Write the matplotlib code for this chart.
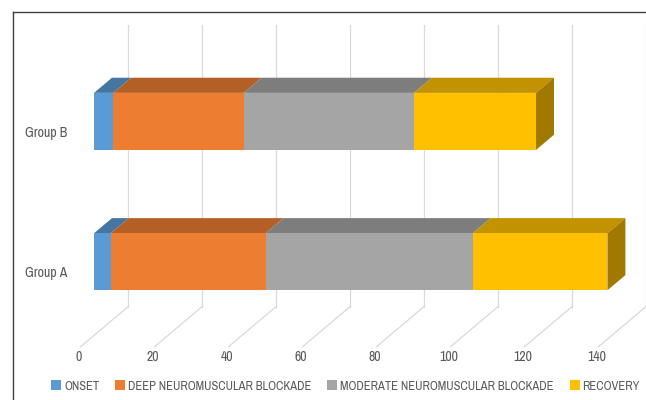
import matplotlib
matplotlib.use("Agg")
import matplotlib.pyplot as plt
from matplotlib.patches import Polygon, Patch
from matplotlib import font_manager
import numpy as np

# ---- data ----
groups = ["Group A", "Group B"]
series_names = ["ONSET", "DEEP NEUROMUSCULAR BLOCKADE",
                "MODERATE NEUROMUSCULAR BLOCKADE", "RECOVERY"]
onset = [4.5, 5.2]
deep = [41.9, 35.3]
moderate = [56.0, 46.0]
recovery = [36.4, 33.0]
x_ticks = [0, 20, 40, 60, 80, 100, 120, 140]

colors = ["#5B9BD5", "#ED7D31", "#A5A5A5", "#FFC000"]

available = {f.name for f in font_manager.fontManager.ttflist}
narrow = sorted(n for n in available if ("Narrow" in n or "Condensed" in n))
fam = narrow[0] if narrow else "Liberation Sans"
plt.rcParams["font.family"] = [fam, "DejaVu Sans"]
LEG_FS = 9.0 if narrow else 7.5
CAT_FS = 10.0 if narrow else 8.5
TICK_FS = 10.0 if narrow else 8.5
TXT = "#595959"

W, H = 646, 400
fig = plt.figure(figsize=(W / 100, H / 100), dpi=100)
ax = fig.add_axes([0, 0, 1, 1])
PXU = 3.699     # px per value unit
PXC = 140.4     # px per category
ax.set_xlim(-128 / PXU, (W - 128) / PXU)
ax.set_ylim((233.1 - H) / PXC, 233.1 / PXC)
ax.axis("off")

# oblique depth: d=0 back wall, d=1 front floor
DX, DY = -47.4, 40.0


def P(v, c, d):
    return (v + DX * d / PXU, c - DY * d / PXC)


def shade(col, f):
    r, g, b = matplotlib.colors.to_rgb(col)
    return (r * f, g * f, b * f)


c_floor = (233.1 - 306.7) / PXC
c_top = (233.1 - 25) / PXC

# gridlines
for v in x_ticks:
    ax.plot(*zip(P(v, c_floor, 0), P(v, c_top, 0)), color="#D9D9D9", lw=0.9, zorder=1)
    ax.plot(*zip(P(v, c_floor, 0), P(v, c_floor, 1)), color="#D9D9D9", lw=0.9, zorder=1)
    x, y = P(v, c_floor, 1)
    ax.text(x - 1.5 / PXU, y - 10 / PXC, str(v), ha="center", va="center",
            fontsize=TICK_FS, color=TXT)

# bars
d_f, d_b = 0.717, 0.338
h = 57 / PXC
data = np.array([onset, deep, moderate, recovery])
for gi, g in enumerate(groups):
    c = gi
    left = 0.0
    n = data.shape[0]
    for si in range(n):
        val = data[si, gi]
        s, e = left, left + val
        col = colors[si]
        top = [P(s, c + h / 2, d_f), P(e, c + h / 2, d_f), P(e, c + h / 2, d_b), P(s, c + h / 2, d_b)]
        ax.add_patch(Polygon(top, closed=True, facecolor=shade(col, 0.76), edgecolor="none", zorder=3))
        front = [P(s, c - h / 2, d_f), P(e, c - h / 2, d_f), P(e, c + h / 2, d_f), P(s, c + h / 2, d_f)]
        ax.add_patch(Polygon(front, closed=True, facecolor=col, edgecolor="none", zorder=4))
        if si == n - 1:
            side = [P(e, c - h / 2, d_f), P(e, c + h / 2, d_f), P(e, c + h / 2, d_b), P(e, c - h / 2, d_b)]
            ax.add_patch(Polygon(side, closed=True, facecolor=shade(col, 0.63), edgecolor="none", zorder=3))
        left = e
    x, y = P(0, c, 1)
    ax.text(x - 13 / PXU, y, g, ha="right", va="center", fontsize=CAT_FS, color=TXT)

# frame
ax.plot([13 / PXU - 128 / PXU] * 2, [(233.1 - 399) / PXC, (233.1 - 12) / PXC],
        color="#404040", lw=1.0, zorder=5, clip_on=False)
ax.plot([13 / PXU - 128 / PXU, (W - 128) / PXU], [(233.1 - 12) / PXC] * 2,
        color="#404040", lw=1.0, zorder=5, clip_on=False)

handles = [Patch(facecolor=colors[i], edgecolor="none", label=series_names[i]) for i in range(4)]
fig.legend(handles=handles, loc="center", bbox_to_anchor=(0.535, 1 - 386 / 400), ncol=4,
           frameon=False, fontsize=LEG_FS, handlelength=0.8, handleheight=0.8,
           handletextpad=0.2, columnspacing=1.3, labelcolor=TXT,
           borderpad=0.0, borderaxespad=0.0)

fig.savefig("out.png", dpi=100)
